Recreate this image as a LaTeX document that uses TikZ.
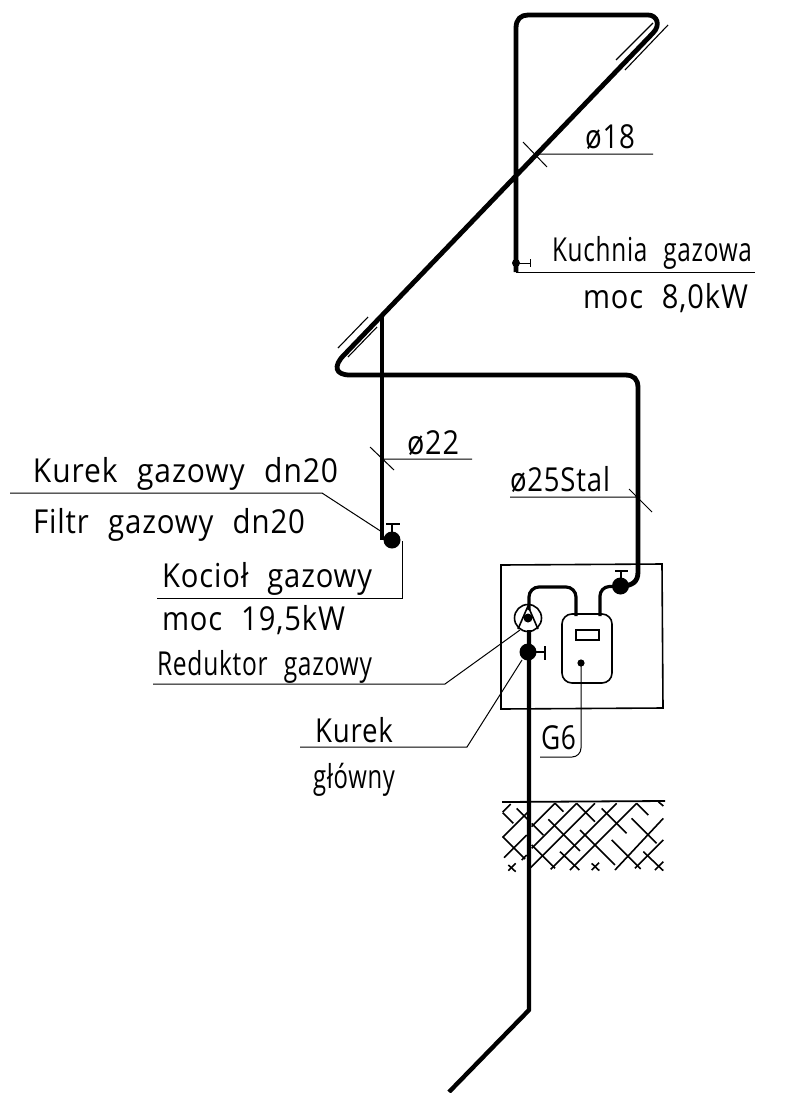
\documentclass[tikz,border=0pt]{standalone}
\usepackage{fontspec}
\setmainfont[LetterSpace=3]{Open Sans}
\newcommand{\lbl}[6][]{\node[lab,#1] (#2) at (#3,#4) {\resizebox{#5pt}{\height}{#6}};}
\newcommand{\gp}{\hspace{0.65em}}
\tikzset{
 lab/.style={anchor=base west,inner sep=0pt,outer sep=0pt,font=\fontsize{33}{36}\selectfont},
 pipe/.style={line width=4.8pt,line join=round},
 thin line/.style={line width=1.1pt},
 frame/.style={line width=1.6pt},
 gas/.style={line width=1pt},
 hatchline/.style={line width=1.6pt},
}
\begin{document}
\begin{tikzpicture}[x=1pt,y=-1pt]
\path[use as bounding box] (0,0) rectangle (791,1093);
% pipes
\draw[pipe] (516,272) -- (516,28) .. controls (516,19) and (521,15) .. (528,15) -- (648,15)
  .. controls (657,15) and (661,25) .. (653,33) -- (344,355)
  .. controls (333,366) and (335,375) .. (350,375) -- (625,375)
  .. controls (634,375) and (638,379) .. (638,388) -- (638,572)
  .. controls (638,582) and (632,586) .. (621,586);
\draw[pipe,line width=3.8pt] (382,316) -- (382,540);
\draw[pipe,line width=3.2pt,rounded corners=9pt] (621,586) -- (600,587) -- (600,616);
\draw[pipe,line width=3.2pt,rounded corners=10pt] (576,616) -- (576,587) -- (529,587) -- (529,610);
\draw[line width=4.4pt,line join=round] (529,630) -- (529,1010) -- (449,1092);
% double strokes on pipe
\draw[thin line] (616,60) -- (653,23) (625,70) -- (668,25) (338,348) -- (368,317) (348,357) -- (377,327);
% cabinet
\draw[frame] (501,565) -- (662,564) -- (663,708) -- (501,709) -- cycle;
% meter
\draw[frame,rounded corners=10pt] (562,614) rectangle (612,683);
\draw[frame] (576,630) rectangle (599,640);
\fill (581,663) circle (3.6);
\draw[gas,rounded corners=9pt] (581,663) -- (581,757) -- (540,757);
\lbl{gsix}{541}{749}{35}{G6}
% reducer
\draw[frame] (528,618) circle (13.5);
\draw[frame,line join=round] (518,629) -- (528,606) -- (538,629);
\fill (528,618) circle (4.5);
% valves
\fill (528,652) circle (8.5);
\draw[line width=1.6pt] (528,652) -- (545,652) (545,646) -- (545,660);
\fill (620.5,586) circle (8.5);
\draw[line width=1.6pt] (621,586) -- (621,571) (615,571) -- (628,571);
\fill (392,540) circle (8.5);
\draw[line width=1.6pt] (392,540) -- (392,524) (386,524) -- (400,524);
\fill (516,263) circle (4);
\draw[gas] (516,263) -- (530,263) (530,259) -- (530,267);
% hatching ground
\draw[line width=1.8pt] (502,802) -- (665,801);
\begin{scope}[hatchline,shift={(480,780)},x=0.3333pt,y=-0.3333pt]
\draw (92,72) -- (68,96) (150,90) -- (68,172) (140,165) -- (72,233) (225,70) -- (155,140)
 (290,70) -- (155,205) (345,70) -- (152,263) (410,70) -- (212,268) (470,70) -- (270,270)
 (550,115) -- (405,270) (550,180) -- (465,265) (140,225) -- (125,240) (85,272) -- (107,250)
 (335,270) -- (357,248) (525,270) -- (550,245);
\draw (68,98) -- (100,130) (110,85) -- (145,120) (68,170) -- (135,237) (85,255) -- (107,275)
 (155,130) -- (190,165) (155,195) -- (225,265) (205,118) -- (300,213) (225,70) -- (250,95)
 (290,70) -- (345,125) (300,150) -- (405,255) (240,215) -- (298,270) (365,85) -- (440,160)
 (335,250) -- (358,272) (395,180) -- (482,267) (455,115) -- (530,190) (470,70) -- (505,105)
 (490,215) -- (550,272) (535,65) -- (550,78);
\end{scope}
% leaders
\draw[gas] (535,154) -- (653,154) (523,142) -- (547,167);
\draw[gas] (382,459) -- (472,459) (370,447) -- (394,470);
\draw[gas] (510,497) -- (640,497) (629,489) -- (652,512);
\draw[gas] (516,272) -- (755,272);
\draw[gas] (10,493) -- (322,493) -- (382,532);
\draw[gas] (402,541) -- (402,598) -- (157,598);
\draw[gas] (520,630) -- (445,684) -- (153,684);
\draw[gas] (522,660) -- (467,747) -- (300,747);
% labels
\lbl{dA}{585}{148}{50}{ø18}
\lbl{kuch}{552}{261}{200}{Kuchnia\gp gazowa}
\lbl{mocA}{583}{308}{165}{moc\gp 8,0kW}
\lbl{dB}{407}{454}{52}{ø22}
\lbl{dC}{510}{491}{100}{ø25Stal}
\lbl{kurA}{33}{482}{305}{Kurek\gp gazowy\gp dn20}
\lbl{filtr}{33}{533}{272}{Filtr\gp gazowy\gp dn20}
\lbl{koc}{162}{587}{210}{Kocioł\gp gazowy}
\lbl{mocB}{162}{630}{183}{moc\gp 19,5kW}
\lbl{red}{157}{675}{215}{Reduktor\gp gazowy}
\lbl{kurB}{315}{742}{78}{Kurek}
\lbl{glo}{313}{788}{82}{główny}
\end{tikzpicture}
\end{document}
